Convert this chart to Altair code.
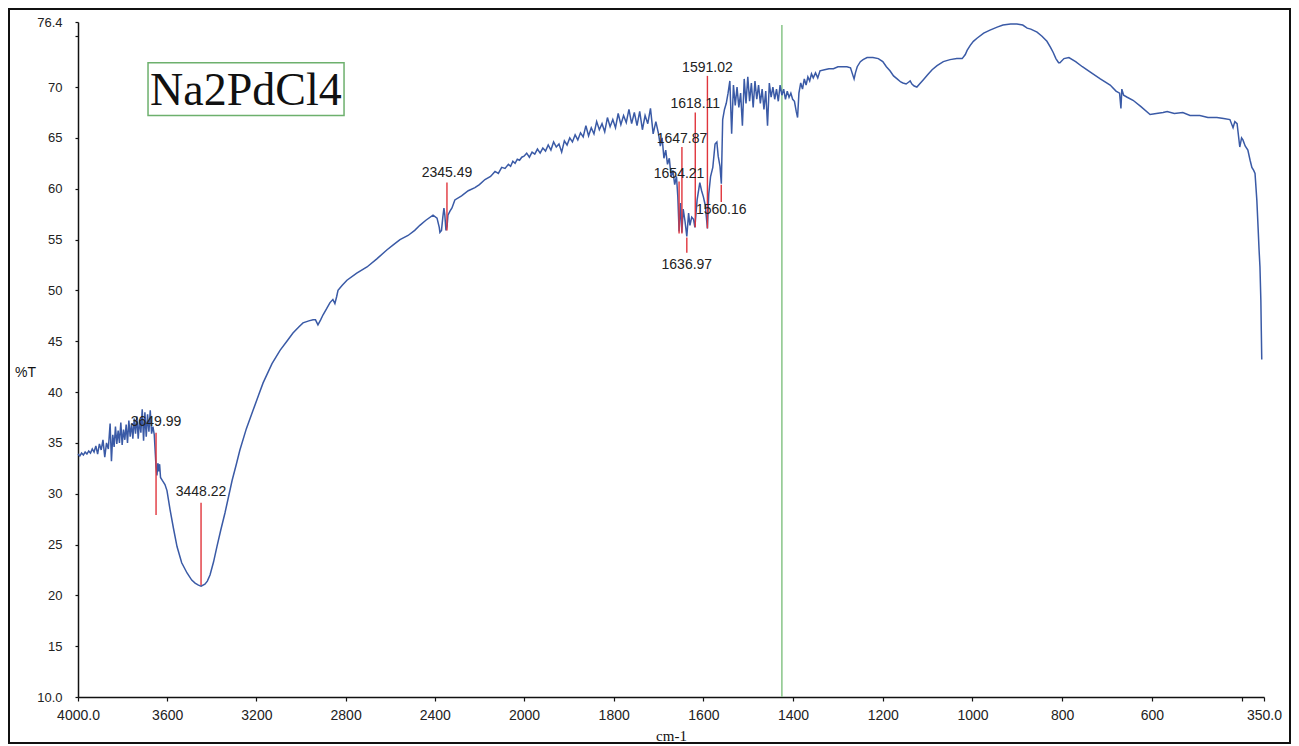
import altair as alt
import pandas as pd

# ---------------- spectrum data ----------------
wn_a = [4000, 3992, 3984, 3976, 3968, 3960, 3952, 3944, 3936, 3928, 3920, 3912, 3904, 3896,
        3888, 3880, 3872, 3864, 3856, 3850, 3844, 3838, 3832, 3826, 3820, 3814, 3808, 3802,
        3796, 3790, 3784, 3778, 3772, 3766, 3760, 3754, 3748, 3742, 3736, 3730, 3724, 3718,
        3712, 3706, 3700, 3694, 3688, 3682, 3676, 3670, 3664, 3658, 3654, 3650]
t_a = [33.9, 33.7, 34.0, 33.8, 34.1, 33.9, 34.2, 34.0, 34.4, 34.1, 34.7, 33.9, 34.9, 34.3,
       35.3, 33.6, 35.0, 34.4, 36.9, 33.2, 35.8, 34.6, 36.6, 34.9, 36.2, 35.0, 37.0, 34.8,
       36.3, 35.3, 36.8, 35.0, 37.2, 35.6, 36.9, 35.4, 37.4, 35.9, 37.6, 35.4, 37.3, 36.0,
       38.3, 35.2, 38.0, 35.6, 37.8, 36.1, 38.2, 35.9, 36.6, 35.8, 34.2, 32.6]

wn_b = [3646, 3642, 3638, 3634, 3630, 3622, 3610, 3601, 3587, 3572, 3556, 3535, 3511, 3490,
        3475, 3460, 3448, 3431, 3420, 3408, 3392, 3377, 3360, 3341, 3325, 3309, 3290, 3274,
        3245, 3215, 3190, 3170, 3130, 3094, 3060, 3036, 3010, 2991, 2965, 2946, 2935, 2924,
        2912, 2901, 2885, 2870, 2857, 2848, 2840, 2834, 2815, 2794, 2750, 2704, 2660, 2614,
        2585, 2556, 2520, 2490, 2467, 2440, 2408, 2390, 2380, 2377, 2370, 2364, 2359, 2355,
        2350, 2345, 2341, 2332, 2323, 2310, 2280, 2250, 2220, 2200, 2175, 2150, 2130, 2115,
        2100, 2085, 2070, 2060, 2050, 2040, 2030, 2020, 2010]
t_b = [31.8, 33.0, 32.2, 32.9, 31.6, 31.3, 30.9, 30.3, 28.4, 26.6, 24.8, 23.2, 22.2, 21.5,
       21.2, 21.0, 20.9, 21.1, 21.4, 22.0, 23.3, 24.8, 26.4, 28.1, 29.7, 31.3, 32.9, 34.3,
       36.4, 38.2, 39.7, 40.9, 42.8, 44.1, 45.1, 45.8, 46.4, 46.8, 47.0, 47.1, 47.1, 46.6,
       47.1, 47.6, 48.2, 48.8, 49.1, 48.7, 49.4, 50.0, 50.5, 51.0, 51.7, 52.3, 53.1, 54.0,
       54.5, 55.0, 55.4, 55.9, 56.4, 56.9, 57.4, 57.1, 56.2, 55.7, 55.9, 57.2, 58.1, 57.4,
       55.9, 56.3, 57.4, 57.8, 58.1, 58.9, 59.3, 59.8, 60.1, 60.4, 60.9, 61.2, 61.7, 61.5,
       62.1, 62.0, 62.4, 62.2, 62.7, 62.5, 62.9, 62.8, 63.1]

wn_c = [2000, 1994, 1988, 1982, 1976, 1970, 1964, 1958, 1952, 1946, 1940, 1934, 1928, 1922,
        1916, 1910, 1904, 1898, 1892, 1886, 1880, 1874, 1868, 1862, 1856, 1850, 1844, 1838,
        1832, 1826, 1820, 1814, 1808, 1802, 1796, 1790, 1784, 1778, 1772, 1766, 1760, 1754,
        1748, 1742, 1736, 1730, 1724, 1718, 1712, 1706]
t_c = [63.2, 63.5, 63.1, 63.6, 63.4, 63.9, 63.5, 64.0, 63.7, 64.3, 63.8, 64.6, 64.1, 64.4,
       63.6, 64.7, 64.3, 65.0, 64.6, 65.3, 64.8, 65.5, 65.1, 66.2, 65.2, 66.0, 65.4, 66.6,
       65.8, 66.4, 65.6, 67.0, 66.1, 66.8, 66.0, 67.4, 66.3, 67.2, 66.5, 67.8, 66.4, 67.5,
       66.2, 67.6, 65.8, 67.2, 66.4, 67.9, 65.4, 66.6]

wn_d = [1700, 1696, 1692, 1688, 1684, 1680, 1676, 1672, 1668, 1664, 1660, 1657, 1654.2, 1651,
        1648, 1645, 1641, 1637, 1633, 1630, 1626, 1622, 1619, 1614, 1608, 1604, 1600, 1596,
        1591, 1588, 1584, 1579, 1574, 1570, 1567, 1563, 1560, 1557, 1553, 1549, 1545, 1541]
t_d = [65.4, 64.2, 65.0, 63.0, 63.8, 62.4, 63.0, 61.2, 61.8, 60.4, 61.2, 59.2, 55.8, 58.6,
       55.7, 58.0, 56.8, 55.3, 57.6, 56.4, 57.2, 57.0, 56.2, 58.9, 60.6, 59.8, 59.2, 58.4,
       56.1, 59.5, 61.2, 62.1, 64.4, 64.6, 63.2, 62.2, 60.5, 66.8, 67.8, 68.4, 69.4, 70.6]

wn_e = [1537, 1533, 1529, 1525, 1521, 1517, 1513, 1509, 1505, 1501, 1497, 1493, 1489, 1485,
        1481, 1477, 1473, 1469, 1465, 1461, 1457, 1453, 1449, 1445, 1441, 1437, 1433, 1429,
        1425, 1421, 1417, 1413, 1409, 1405, 1401, 1397, 1393, 1390, 1387, 1383, 1379, 1375,
        1371, 1367, 1363, 1359, 1355, 1350, 1345, 1340, 1330, 1320, 1310, 1300, 1290, 1280,
        1272, 1267, 1264, 1261, 1257, 1250, 1244, 1235, 1222, 1210, 1200, 1192, 1184, 1176,
        1168, 1160, 1155, 1148, 1142, 1139, 1135, 1130, 1124, 1118, 1110, 1100, 1090, 1079,
        1065, 1050, 1035, 1023, 1016, 1012, 1005, 998, 990, 975, 961, 945, 932, 915, 901, 888,
        878, 870, 856, 845, 834, 826, 820, 814, 808, 805, 796, 785]
t_e = [65.4, 70.2, 68.2, 70.0, 68.0, 69.4, 66.2, 70.8, 68.4, 71.0, 68.6, 70.4, 68.0, 70.6,
       68.8, 70.2, 68.4, 69.8, 67.8, 69.6, 66.2, 70.4, 69.0, 70.0, 68.8, 69.8, 68.6, 70.2,
       69.2, 69.8, 68.8, 69.6, 69.0, 69.4, 68.8, 68.6, 67.6, 67.0, 69.4, 70.4, 69.8, 70.8,
       70.2, 71.0, 70.6, 71.3, 70.9, 71.4, 70.9, 71.6, 71.7, 71.8, 71.8, 72.0, 72.0, 72.0,
       71.9, 71.2, 70.8, 71.4, 72.0, 72.5, 72.7, 72.9, 72.9, 72.8, 72.5, 72.0, 71.6, 71.1,
       70.8, 70.5, 70.4, 70.3, 70.5, 70.6, 70.3, 70.1, 70.0, 70.3, 70.7, 71.2, 71.7, 72.1,
       72.5, 72.7, 72.8, 72.8, 73.2, 73.6, 74.1, 74.5, 74.8, 75.3, 75.6, 75.9, 76.1, 76.2,
       76.2, 76.1, 75.8, 75.7, 75.4, 75.0, 74.5, 73.9, 73.4, 72.8, 72.4, 72.4, 72.8, 72.9]

wn_f = [770, 755, 738, 715, 693, 680, 672, 669, 667, 663, 655, 642, 625, 604, 590, 575, 566,
        550, 531, 515, 493, 475, 455, 440, 426, 419, 415, 410, 404, 400, 397, 392, 386, 381,
        377, 373, 370, 366, 363, 361, 359, 357, 356, 355]
t_f = [72.5, 72.0, 71.5, 70.8, 70.2, 69.6, 69.4, 67.9, 69.8, 69.2, 69.0, 68.7, 68.1, 67.3,
       67.4, 67.5, 67.6, 67.4, 67.5, 67.2, 67.2, 67.0, 67.0, 66.9, 66.8, 66.0, 66.6, 66.4,
       64.1, 65.0, 64.8, 64.2, 63.8, 62.8, 62.1, 61.8, 61.5, 58.9, 56.0, 54.0, 52.3, 49.0,
       46.0, 43.2]

wavenumber = wn_a + wn_b + wn_c + wn_d + wn_e + wn_f
transmittance = t_a + t_b + t_c + t_d + t_e + t_f

# ---------------- peak markers ----------------
peak_labels = ["3649.99", "3448.22", "2345.49", "1654.21", "1647.87", "1636.97", "1618.11", "1591.02", "1560.16"]
peak_wn = [3649.99, 3448.22, 2345.49, 1654.21, 1647.87, 1636.97, 1618.11, 1591.02, 1560.16]
peak_top = [36.0, 29.1, 60.6, 60.7, 64.1, 55.2, 67.5, 71.1, 60.4]
peak_bottom = [27.9, 21.0, 55.9, 55.6, 55.6, 53.7, 56.2, 56.1, 58.7]
label_y = [37.1, 30.2, 61.5, 61.4, 64.9, 52.5, 68.3, 71.9, 57.9]

# vertical green cursor
cursor_wn = [1425]
cursor_lo = [10.0]
cursor_hi = [76.1]

# sample name box (in data units)
name_text = ["Na2PdCl4"]
name_x = [3247]
name_y = [68.2]
box_x1 = [3686]
box_x2 = [2807]
box_y1 = [72.4]
box_y2 = [67.2]

x_ticks = [4000, 3600, 3200, 2800, 2400, 2000, 1800, 1600, 1400, 1200, 1000, 800, 600, 400, 350]
y_ticks = [10, 15, 20, 25, 30, 35, 40, 45, 50, 55, 60, 65, 70, 75, 76.4]

# ---------------- chart ----------------
W, H = 1186, 675
xscale = alt.Scale(domain=[4000, 2000, 350], range=[0, 446, W], nice=False, zero=False)
yscale = alt.Scale(domain=[10, 76.4], nice=False, zero=False)

xaxis = alt.Axis(values=x_ticks, title="cm-1", grid=False, labelFlush=False, labelOverlap=False,
                 labelExpr="datum.value == 4000 ? '4000.0' : (datum.value == 350 ? '350.0' : (datum.value == 400 ? '' : format(datum.value, 'd')))",
                 labelFont="Liberation Sans", labelFontSize=14, labelColor="#222",
                 tickSize=4, tickColor="#111", domainColor="#111", domainWidth=1.5, tickWidth=1.2,
                 labelPadding=7, titleFont="Liberation Serif", titleFontSize=15, titleFontWeight="normal",
                 titleColor="#111", titleY=38, titleBaseline="middle")
yaxis = alt.Axis(values=y_ticks, title="%T", grid=False, labelOverlap=False, labelFlush=False,
                 labelExpr="datum.value == 10 ? '10.0' : (datum.value == 75 ? '' : (datum.value == 76.4 ? '76.4' : format(datum.value, 'd')))",
                 labelFont="Liberation Sans", labelFontSize=13, labelColor="#222",
                 tickSize=3, tickColor="#111", domainColor="#111", domainWidth=1.5, tickWidth=1.2,
                 labelPadding=13, titleFont="Liberation Sans", titleFontSize=14, titleFontWeight="normal",
                 titleColor="#111", titleAngle=0, titleX=-53, titleY=350,
                 titleAlign="center", titleBaseline="middle")

spec_df = pd.DataFrame({"wn": wavenumber, "T": transmittance})
peaks_df = pd.DataFrame({"wn": peak_wn, "top": peak_top, "bottom": peak_bottom,
                         "ly": label_y, "label": peak_labels})
cursor_df = pd.DataFrame({"wn": cursor_wn, "lo": cursor_lo, "hi": cursor_hi})
name_df = pd.DataFrame({"x": name_x, "y": name_y, "t": name_text,
                        "x1": box_x1, "x2": box_x2, "y1": box_y1, "y2": box_y2})


def X(field):
    return alt.X(f"{field}:Q", scale=xscale, axis=xaxis)


def Y(field):
    return alt.Y(f"{field}:Q", scale=yscale, axis=yaxis)


frame = alt.Chart(pd.DataFrame({"k": [0]})).mark_rect(
    fillOpacity=0, stroke="#111", strokeWidth=2
).encode(x=alt.value(-69), x2=alt.value(1212), y=alt.value(-13), y2=alt.value(721))

cursor = alt.Chart(cursor_df).mark_rule(color="#8fc88f", strokeWidth=1.6).encode(
    x=X("wn"), y=Y("lo"), y2="hi")

line = alt.Chart(spec_df).mark_line(color="#3a5aa6", strokeWidth=1.5, interpolate="linear").encode(
    x=X("wn"), y=Y("T"))

peak_rules = alt.Chart(peaks_df).mark_rule(color="#e0353c", strokeWidth=1.4).encode(
    x=X("wn"), y=Y("top"), y2="bottom")

peak_text = alt.Chart(peaks_df).mark_text(
    font="Liberation Sans", fontSize=14, color="#222", align="center", baseline="middle"
).encode(x=X("wn"), y=Y("ly"), text="label:N")

name_box = alt.Chart(name_df).mark_rect(fillOpacity=0, stroke="#6db06d", strokeWidth=1.5).encode(
    x=X("x1"), x2="x2", y=Y("y1"), y2="y2")

name_label = alt.Chart(name_df).mark_text(
    font="Liberation Serif", fontSize=46, color="#111", align="center", baseline="alphabetic"
).encode(x=X("x"), y=Y("y"), text="t:N")

chart = alt.layer(frame, cursor, line, peak_rules, peak_text, name_box, name_label).properties(
    width=W, height=H,
    padding={"left": 70, "top": 14, "right": 27, "bottom": 49},
    autosize=alt.AutoSizeParams(type="none"),
    background="white",
).configure_view(stroke=None)

chart.save("out.html", embed_options={"renderer": "svg", "actions": False})
